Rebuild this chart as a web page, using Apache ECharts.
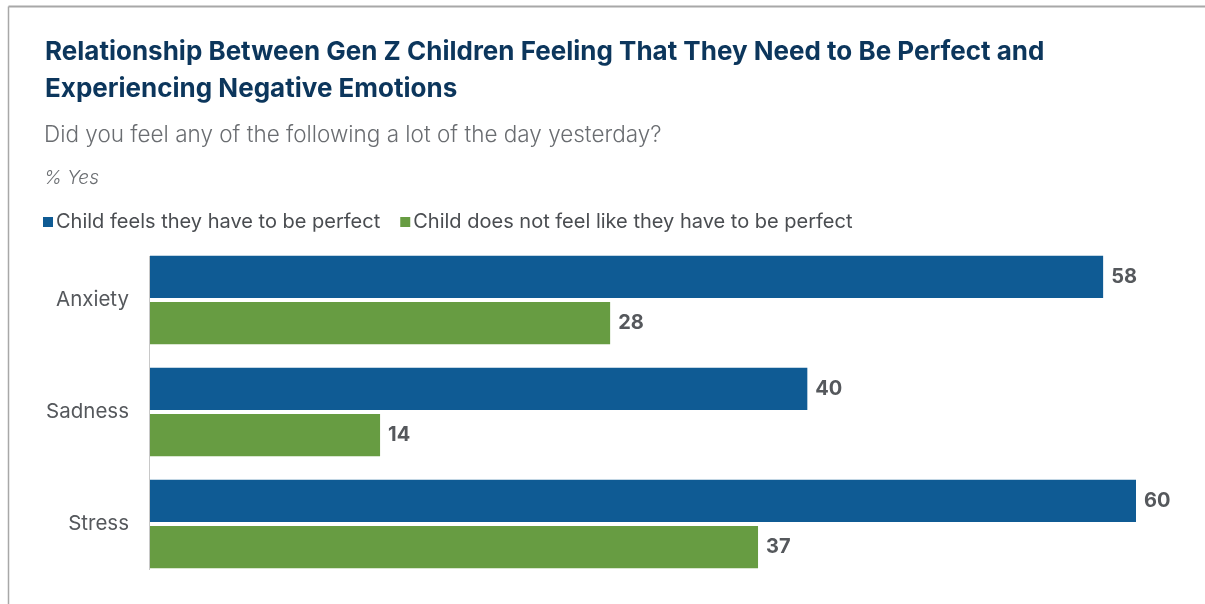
<!DOCTYPE html>
<html>
<head>
<meta charset="utf-8">
<script src="https://cdn.jsdelivr.net/npm/echarts@6/dist/echarts.min.js"></script>
<style>
html,body{margin:0;padding:0;background:#fff;}
#main{width:1205px;height:604px;}
</style>
</head>
<body>
<div id="main"></div>
<script>
var categories = ['Anxiety', 'Sadness', 'Stress'];
var seriesNames = ['Child feels they have to be perfect', 'Child does not feel like they have to be perfect'];
var perfectValues = [58, 40, 60];
var notPerfectValues = [28, 14, 37];

var chart = echarts.init(document.getElementById('main'));

var font = 'Inter, "Liberation Sans", sans-serif';

var option = {
    backgroundColor: '#fff',
    animation: false,
    title: [
        {
            text: 'Relationship Between Gen Z Children Feeling That They Need to Be Perfect and\nExperiencing Negative Emotions',
            left: 45, top: 34, padding: 0,
            textStyle: {fontFamily: font, fontSize: 26, fontWeight: 'bold', color: '#0c365c', lineHeight: 37}
        },
        {
            text: 'Did you feel any of the following a lot of the day yesterday?',
            left: 44, top: 122, padding: 0,
            textStyle: {fontFamily: font, fontSize: 22.5, fontWeight: 300, color: '#6a6d71', lineHeight: 26}
        },
        {
            text: '% Yes',
            left: 44, top: 167, padding: 0,
            textStyle: {fontFamily: font, fontSize: 19, fontWeight: 300, fontStyle: 'italic', color: '#6a6d71', lineHeight: 22}
        }
    ],
    legend: {
        left: 43, top: 212, padding: 0,
        icon: 'rect',
        itemWidth: 10, itemHeight: 10,
        itemGap: 20,
        textStyle: {fontFamily: font, fontSize: 20, color: '#4a4d51', padding: [0, 0, 0, -2]},
        data: seriesNames
    },
    grid: {left: 150, right: 69, top: 244, bottom: 24, containLabel: false},
    xAxis: {
        type: 'value', min: 0, max: 60,
        show: false
    },
    yAxis: {
        type: 'category',
        data: categories,
        inverse: true,
        axisLine: {show: false},
        axisTick: {show: false},
        axisLabel: {fontFamily: font, fontSize: 20.5, color: '#55585c', margin: 21, padding: [9, 0, 0, 0]}
    },
    series: [
        {
            name: seriesNames[0], type: 'bar',
            data: perfectValues,
            itemStyle: {color: '#0f5b94'},
            barGap: '10%', barCategoryGap: '21%',
            label: {show: true, position: 'right', distance: 8, fontFamily: font, fontSize: 20, fontWeight: 'bold', color: '#55585c'}
        },
        {
            name: seriesNames[1], type: 'bar',
            data: notPerfectValues,
            itemStyle: {color: '#679c42'},
            barGap: '10%', barCategoryGap: '21%',
            label: {show: true, position: 'right', distance: 8, fontFamily: font, fontSize: 20, fontWeight: 'bold', color: '#55585c'}
        }
    ]
};
chart.setOption(option);

// frame and the short axis line next to the bars
var top0 = chart.convertToPixel({yAxisIndex: 0}, categories[0]) - 44;
var bot0 = chart.convertToPixel({yAxisIndex: 0}, categories[categories.length - 1]) + 46;
var x0 = chart.convertToPixel({xAxisIndex: 0}, 0);
chart.setOption({
    graphic: [
        {type: 'line', shape: {x1: 8.5, y1: 6.5, x2: 1205, y2: 6.5}, style: {stroke: '#a8a8a8', lineWidth: 2}},
        {type: 'line', shape: {x1: 8.5, y1: 6.5, x2: 8.5, y2: 604}, style: {stroke: '#a8a8a8', lineWidth: 1.5}},
        {type: 'line', shape: {x1: x0 - 0.5, y1: top0, x2: x0 - 0.5, y2: bot0}, style: {stroke: '#c8c8c8', lineWidth: 1}, z: 10}
    ]
});
</script>
</body>
</html>
